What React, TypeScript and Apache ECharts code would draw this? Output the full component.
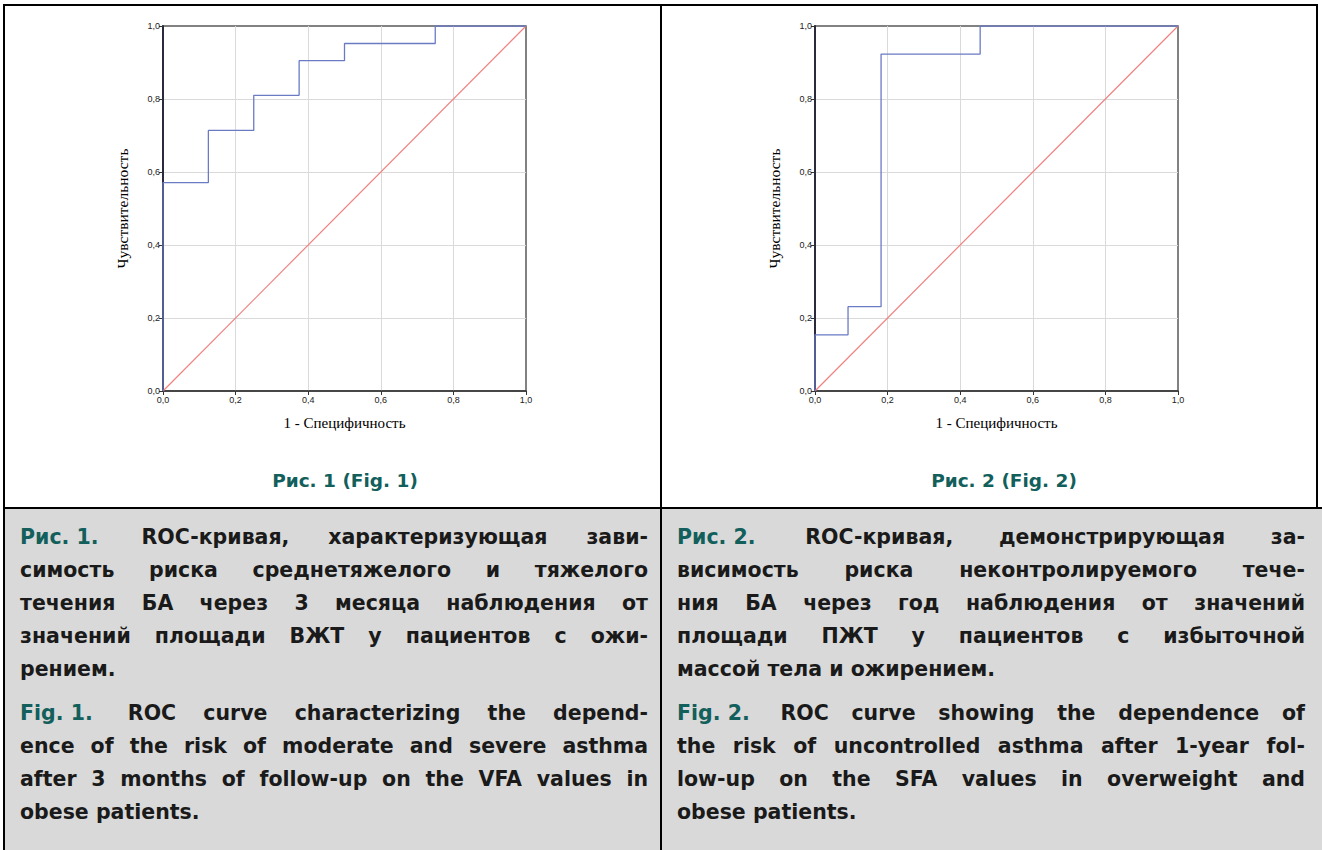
import React, { useEffect, useRef } from "react";
import * as echarts from "echarts";

// ---------- data ----------
const roc1Fpr = [0, 0, 0.125, 0.25, 0.375, 0.5, 0.75, 1];
const roc1Tpr = [0, 0.571, 0.714, 0.81, 0.905, 0.952, 1, 1];
const roc2Fpr = [0, 0, 0.091, 0.182, 0.455, 1];
const roc2Tpr = [0, 0.154, 0.231, 0.923, 1, 1];
const refFpr = [0, 1];
const refTpr = [0, 1];
const axisMin = 0;
const axisMax = 1;
const axisStep = 0.2;
const xAxisTitle = "1 - Специфичность";
const yAxisTitle = "Чувствительность";
const figTitles = ["Рис. 1 (Fig. 1)", "Рис. 2 (Fig. 2)"];

const cap1RuLabel = "Рис. 1.";
const cap1RuLines = [
  "ROC-кривая, характеризующая зави-",
  "симость риска среднетяжелого и тяжелого",
  "течения БА через 3 месяца наблюдения от",
  "значений площади ВЖТ у пациентов с ожи-",
  "рением.",
];
const cap1EnLabel = "Fig. 1.";
const cap1EnLines = [
  "ROC curve characterizing the depend-",
  "ence of the risk of moderate and severe asthma",
  "after 3 months of follow-up on the VFA values in",
  "obese patients.",
];
const cap2RuLabel = "Рис. 2.";
const cap2RuLines = [
  "ROC-кривая, демонстрирующая за-",
  "висимость риска неконтролируемого тече-",
  "ния БА через год наблюдения от значений",
  "площади ПЖТ у пациентов с избыточной",
  "массой тела и ожирением.",
];
const cap2EnLabel = "Fig. 2.";
const cap2EnLines = [
  "ROC curve showing the dependence of",
  "the risk of uncontrolled asthma after 1-year fol-",
  "low-up on the SFA values in overweight and",
  "obese patients.",
];

// ---------- styles ----------
const W = 1322;
const H = 850;
const TEAL = "#125f5c";
const TEXT = "#1a1a1a";
const CAP_FONT = "DejaVu Sans";
const CAP_SIZE = 20.5;
const TITLE_SIZE = 18.5;
const BLUE = "#6a7bc4";
const RED = "#f08080";

const toPairs = (xs: number[], ys: number[]) => xs.map((x, i) => [x, ys[i]]);
const fmt = (v: number) => v.toFixed(1).replace(".", ",");

function buildCaption(
  ctx: CanvasRenderingContext2D,
  label: string,
  lines: string[],
  left: number,
  right: number,
  y0: number,
  lineH: number,
  labelExtra: number
) {
  const els: any[] = [];
  ctx.font = `bold ${CAP_SIZE}px "${CAP_FONT}"`;
  const spaceW = ctx.measureText(" ").width;
  lines.forEach((line, li) => {
    const tokens: { t: string; c: string; extra: number }[] = [];
    if (li === 0) tokens.push({ t: label, c: TEAL, extra: labelExtra });
    line.split(" ").forEach((t) => tokens.push({ t, c: TEXT, extra: 0 }));
    const widths = tokens.map((tk) => ctx.measureText(tk.t).width);
    const sumW = widths.reduce((a, b) => a + b, 0);
    const extras = tokens.slice(0, -1).reduce((a, tk) => a + tk.extra, 0);
    const justify = li < lines.length - 1;
    const gaps = tokens.length - 1;
    const gap = justify && gaps > 0 ? (right - left - sumW - extras) / gaps : spaceW;
    let x = left;
    const y = y0 + li * lineH;
    tokens.forEach((tk, i) => {
      els.push({
        type: "text",
        x,
        y,
        silent: true,
        style: {
          text: tk.t,
          fill: tk.c,
          fontFamily: CAP_FONT,
          fontSize: CAP_SIZE,
          fontWeight: "bold",
          align: "left",
          textAlign: "left",
          verticalAlign: "middle",
          textVerticalAlign: "middle",
        },
      });
      x += widths[i] + gap + tk.extra;
    });
  });
  return els;
}

function makeAxisX(gridIndex: number) {
  return {
    type: "value",
    gridIndex,
    min: axisMin,
    max: axisMax,
    interval: axisStep,
    name: xAxisTitle,
    nameLocation: "middle",
    nameGap: 24,
    nameTextStyle: { fontFamily: "Liberation Serif", fontSize: 15, color: "#000" },
    axisLine: { show: true, onZero: false, lineStyle: { color: "#333", width: 1.5 } },
    axisTick: { show: true, inside: false, length: 4, lineStyle: { color: "#333" } },
    axisLabel: {
      fontFamily: "Liberation Sans",
      fontSize: 9,
      color: "#222",
      margin: 4,
      formatter: fmt,
    },
    splitLine: {
      show: true,
      showMinLine: false,
      showMaxLine: false,
      lineStyle: { color: "#dadada", width: 1 },
    },
  };
}

function makeAxisY(gridIndex: number) {
  return {
    type: "value",
    gridIndex,
    min: axisMin,
    max: axisMax,
    interval: axisStep,
    name: yAxisTitle,
    nameLocation: "middle",
    nameGap: 33,
    nameRotate: 90,
    nameTextStyle: { fontFamily: "Liberation Serif", fontSize: 15.5, color: "#000" },
    axisLine: { show: true, onZero: false, lineStyle: { color: "#2a2a3c", width: 2 } },
    axisTick: { show: true, inside: false, length: 4, lineStyle: { color: "#333" } },
    axisLabel: {
      fontFamily: "Liberation Sans",
      fontSize: 9,
      color: "#222",
      margin: 3,
      formatter: fmt,
    },
    splitLine: {
      show: true,
      showMinLine: false,
      showMaxLine: false,
      lineStyle: { color: "#dadada", width: 1 },
    },
  };
}

export default function App() {
  const ref = useRef<HTMLDivElement>(null);
  useEffect(() => {
    document.body.style.margin = "0";
    if (!ref.current) return;
    const chart = echarts.init(ref.current, undefined, { renderer: "svg", width: W, height: H });
    const canvas = document.createElement("canvas");
    const ctx = canvas.getContext("2d") as CanvasRenderingContext2D;

    const captionEls = [
      ...buildCaption(ctx, cap1RuLabel, cap1RuLines, 20, 648, 537, 33, 4),
      ...buildCaption(ctx, cap1EnLabel, cap1EnLines, 20, 648, 713, 33, 8),
      ...buildCaption(ctx, cap2RuLabel, cap2RuLines, 677, 1305, 537, 33, 4),
      ...buildCaption(ctx, cap2EnLabel, cap2EnLines, 677, 1305, 713, 33, 8),
    ];

    const lineStyle = { stroke: "#000", lineWidth: 2 };
    const graphic: any[] = [
      {
        type: "rect",
        z: -10,
        silent: true,
        shape: { x: 4, y: 508, width: W - 4, height: H - 508 },
        style: { fill: "#d9d9d9" },
      },
      { type: "line", silent: true, shape: { x1: 3, y1: 5, x2: 1318, y2: 5 }, style: lineStyle },
      { type: "line", silent: true, shape: { x1: 4, y1: 4, x2: 4, y2: H }, style: lineStyle },
      { type: "line", silent: true, shape: { x1: 661, y1: 4, x2: 661, y2: H }, style: lineStyle },
      { type: "line", silent: true, shape: { x1: 1317, y1: 4, x2: 1317, y2: 508 }, style: lineStyle },
      { type: "line", silent: true, shape: { x1: 3, y1: 508, x2: W, y2: 508 }, style: lineStyle },
      ...figTitles.map((t, i) => ({
        type: "text",
        silent: true,
        x: i === 0 ? 345 : 1004,
        y: 480,
        style: {
          text: t,
          fill: TEAL,
          fontFamily: CAP_FONT,
          fontSize: TITLE_SIZE,
          fontWeight: "bold",
          align: "center",
          textAlign: "center",
          verticalAlign: "middle",
          textVerticalAlign: "middle",
        },
      })),
      ...captionEls,
    ];

    const gridBase = { width: 363, height: 365, top: 26, show: true, borderColor: "#5a5a5a", borderWidth: 1.5, backgroundColor: "#fff", containLabel: false };

    chart.setOption({
      animation: false,
      backgroundColor: "#fff",
      grid: [
        { ...gridBase, left: 163 },
        { ...gridBase, left: 815 },
      ],
      xAxis: [makeAxisX(0), makeAxisX(1)],
      yAxis: [makeAxisY(0), makeAxisY(1)],
      series: [
        {
          type: "line",
          xAxisIndex: 0,
          yAxisIndex: 0,
          data: toPairs(refFpr, refTpr),
          showSymbol: false,
          symbol: "none",
          lineStyle: { color: RED, width: 1.2 },
          silent: true,
        },
        {
          type: "line",
          xAxisIndex: 0,
          yAxisIndex: 0,
          data: toPairs(roc1Fpr, roc1Tpr),
          step: "end",
          showSymbol: false,
          symbol: "none",
          lineStyle: { color: BLUE, width: 1.3 },
          silent: true,
        },
        {
          type: "line",
          xAxisIndex: 1,
          yAxisIndex: 1,
          data: toPairs(refFpr, refTpr),
          showSymbol: false,
          symbol: "none",
          lineStyle: { color: RED, width: 1.2 },
          silent: true,
        },
        {
          type: "line",
          xAxisIndex: 1,
          yAxisIndex: 1,
          data: toPairs(roc2Fpr, roc2Tpr),
          step: "end",
          showSymbol: false,
          symbol: "none",
          lineStyle: { color: BLUE, width: 1.3 },
          silent: true,
        },
      ],
      graphic,
    });
    return () => chart.dispose();
  }, []);
  return (
    <div
      ref={ref}
      style={{ position: "absolute", left: 0, top: 0, width: W, height: H, background: "#fff" }}
    />
  );
}
